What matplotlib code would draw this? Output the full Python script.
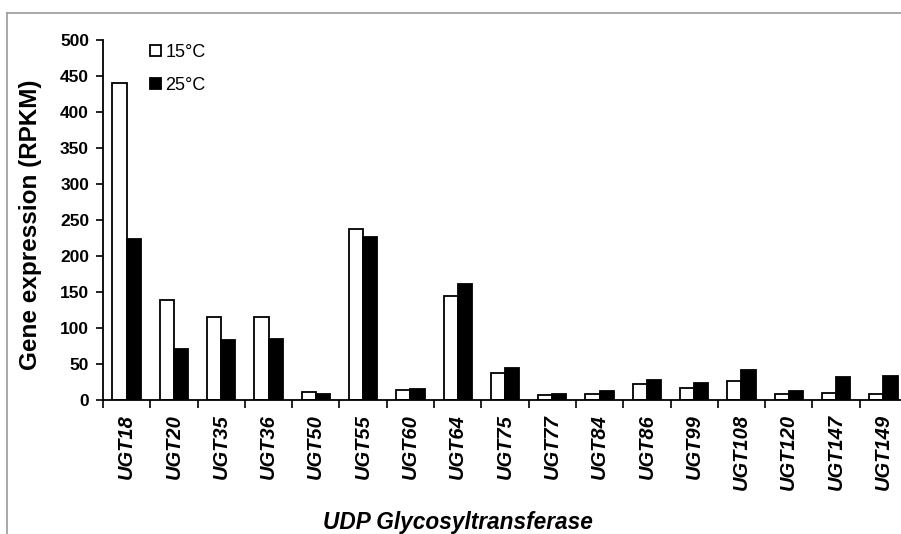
import numpy as np
from matplotlib import pyplot as plt
from matplotlib.lines import Line2D

genes = ['UGT18', 'UGT20', 'UGT35', 'UGT36', 'UGT50', 'UGT55', 'UGT60', 'UGT64',
         'UGT75', 'UGT77', 'UGT84', 'UGT86', 'UGT99', 'UGT108', 'UGT120', 'UGT147', 'UGT149']
t15 = [440, 139, 115, 115, 11, 238, 14, 145, 38, 6.5, 9, 22, 17, 26, 8, 10, 9]
t25 = [223, 71, 84, 85, 8, 227, 15, 161, 44, 8, 12, 28, 24, 41, 13, 32, 33]

plt.rcParams['font.family'] = ['Liberation Sans', 'DejaVu Sans']

W, H = 901, 534
fig = plt.figure(figsize=(W / 100, H / 100), dpi=100)
ax = fig.add_axes([103 / W, 134 / H, 804 / W, 360 / H])

x = np.arange(len(genes))
bw = 0.3
ax.bar(x - bw / 2, t15, bw, color='white', edgecolor='black', linewidth=1.3, label='15°C')
ax.bar(x + bw / 2, t25, bw, color='black', edgecolor='black', linewidth=1.3, label='25°C')

ax.set_xlim(-0.5, len(genes) - 0.5)
ax.set_ylim(0, 500)
ax.set_yticks(np.arange(0, 501, 50))
ax.tick_params(axis='y', direction='out', length=5, width=1.2, labelsize=12.5, pad=5)
for lab in ax.get_yticklabels():
    lab.set_fontweight('bold')

ax.set_xticks(x)
ax.set_xticklabels(genes, rotation=90, fontsize=14.5, fontweight='bold', style='italic')
ax.set_xticks(np.arange(-0.5, len(genes), 1), minor=True)
ax.tick_params(axis='x', which='major', length=0, pad=10)
ax.tick_params(axis='x', which='minor', direction='out', length=6, width=1.2)

for s in ['top', 'right']:
    ax.spines[s].set_visible(False)
for s in ['left', 'bottom']:
    ax.spines[s].set_linewidth(1.3)

ax.set_ylabel('Gene expression (RPKM)', fontsize=17.5, fontweight='bold')
ax.yaxis.set_label_coords(-(103 - 42) / 804, (400 - 225) / 360)
ax.set_xlabel('UDP Glycosyltransferase', fontsize=16.3, fontweight='bold', style='italic')
ax.xaxis.set_label_coords((458 - 103) / 804, -(511 - 400) / 360)

leg = ax.legend(loc='upper left', bbox_to_anchor=(0.038, 1.035), frameon=False, fontsize=13,
                handlelength=0.6, handleheight=0.6, handletextpad=0.25, labelspacing=0.9)

# gray frame around the picture
fig.add_artist(Line2D([7 / W, 1], [1 - 13 / H, 1 - 13 / H], color='#999999', lw=1.2))
fig.add_artist(Line2D([7 / W, 7 / W], [0, 1 - 13 / H], color='#999999', lw=1.2))

fig.savefig('out.png', dpi=100)
